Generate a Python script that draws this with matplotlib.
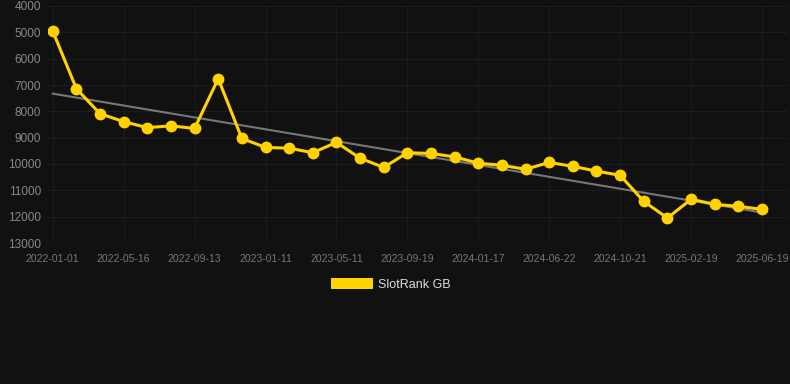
"""
SlotRank GB rank over time, dark theme line chart.
"""

import matplotlib.pyplot as plt
import numpy as np

plt.rcParams["font.family"] = ["Liberation Sans", "DejaVu Sans"]

# Rank value for each snapshot (lower rank number = better, axis inverted).
ranks = [
    4950, 7140, 8090, 8390, 8620, 8550, 8650, 6760, 9030,
    9370, 9400, 9570, 9180, 9780, 10130, 9570, 9600, 9730, 9970, 10050, 10200,
    9940, 10090, 10270, 10430, 11420, 12050, 11340, 11530, 11610, 11720,
]
# Only every third snapshot date is shown on the axis.
tick_labels = [
    "2022-01-01", "2022-05-16", "2022-09-13", "2023-01-11", "2023-05-11",
    "2023-09-19", "2024-01-17", "2024-06-22", "2024-10-21", "2025-02-19",
    "2025-06-19",
]
y_ticks = list(range(4000, 13001, 1000))

BG = "#111111"
GOLD = "#FFD200"

fig = plt.figure(figsize=(7.9, 3.84), dpi=100, facecolor=BG)
ax = fig.add_axes([48 / 790, 1 - 243 / 384, 740 / 790, 237 / 384])
ax.set_facecolor(BG)

x = np.arange(len(ranks))

# Linear trend of the series.
slope, intercept = np.polyfit(x, ranks, 1)
ax.plot(x, slope * x + intercept, color="#777777", linewidth=1.5, zorder=2)

ax.plot(x, ranks, color=GOLD, linewidth=2.2, marker="o", markersize=7.5,
        zorder=3)

ax.set_ylim(13000, 4000)
ax.set_yticks(y_ticks)
ax.set_xlim(-0.2, 31.1)
ax.set_xticks(x[::3])
ax.set_xticklabels(tick_labels)

ax.grid(True, color="#1c1c1c", linewidth=0.8)
for s in ax.spines.values():
    s.set_visible(False)
ax.tick_params(axis="x", colors="#777777", labelsize=7.5, length=0, pad=8)
ax.tick_params(axis="y", colors="#888888", labelsize=8.5, length=0, pad=5)
ax.axhline(13000, color="#262626", linewidth=0.8)

handle = plt.Rectangle((0, 0), 1, 1, facecolor=GOLD, edgecolor="none")
fig.legend([handle], ["SlotRank GB"], loc="center", bbox_to_anchor=(0.495, 0.26),
           frameon=False, fontsize=9, labelcolor="#dddddd",
           handlelength=3.33, handleheight=1.0, handletextpad=0.4)

fig.savefig("out.png", facecolor=BG)
